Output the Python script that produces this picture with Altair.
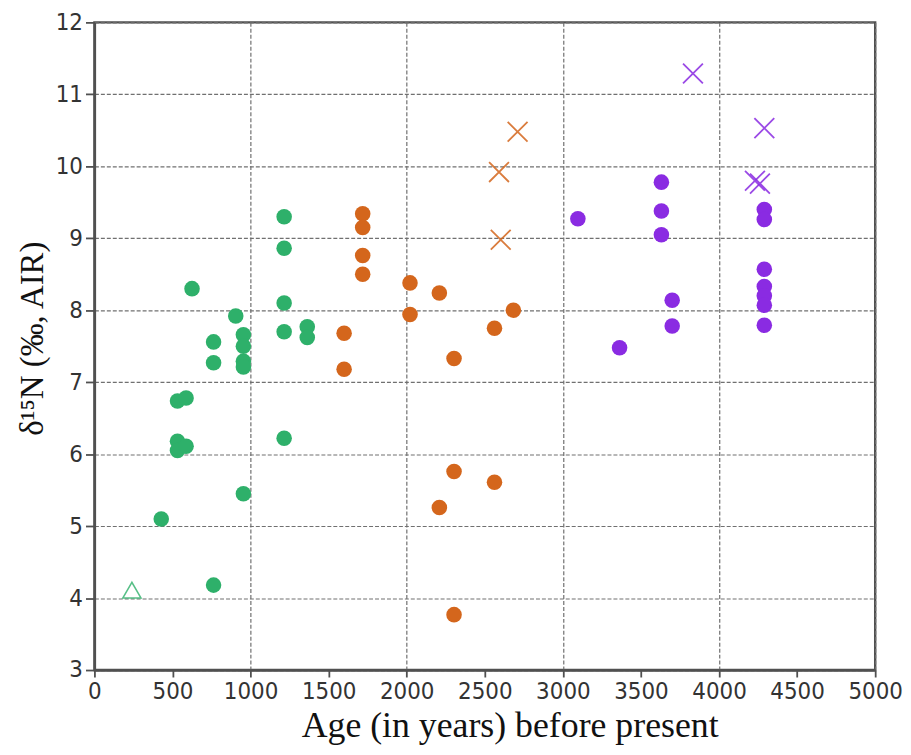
import altair as alt
import pandas as pd

# Green (youngest) group
green_x = [428, 763, 625, 905, 763, 763, 954, 954, 954, 954, 1215, 1215, 1215, 1215, 1215, 1363, 1363, 532, 587, 532, 532, 587, 954]
green_y = [5.10, 4.18, 8.30, 7.92, 7.56, 7.27, 7.66, 7.50, 7.29, 7.21, 9.30, 8.86, 8.10, 7.70, 6.22, 7.77, 7.62, 6.74, 6.78, 6.18, 6.05, 6.11, 5.45]
green_tri_x = [240]
green_tri_y = [4.11]

# Orange (middle) group
orange_x = [1718, 1718, 1718, 1718, 2021, 2021, 2209, 2683, 2562, 1599, 1599, 2303, 2303, 2562, 2209, 2303]
orange_y = [9.34, 9.15, 8.76, 8.50, 8.38, 7.94, 8.24, 8.00, 7.75, 7.68, 7.18, 7.33, 5.76, 5.61, 5.26, 3.77]
orange_cross_x = [2710, 2591, 2602]
orange_cross_y = [10.48, 9.92, 8.98]

# Purple (oldest) group
purple_x = [3096, 3631, 3631, 3631, 4290, 4290, 4290, 4290, 4290, 4290, 4290, 3700, 3700, 3363]
purple_y = [9.27, 9.78, 9.38, 9.05, 9.40, 9.26, 8.57, 8.33, 8.20, 8.07, 7.79, 8.14, 7.78, 7.48]
purple_cross_x = [3833, 4290, 4230, 4262]
purple_cross_y = [11.29, 10.53, 9.80, 9.76]

x_ticks = list(range(0, 5001, 500))
y_ticks = list(range(3, 13))

GREEN, ORANGE, PURPLE = "#2EB06A", "#D4661C", "#8A2BE2"

def frame(xs, ys, grp):
    return pd.DataFrame({"age": xs, "d15n": ys, "grp": grp})

circles = pd.concat([
    frame(green_x, green_y, "g"),
    frame(orange_x, orange_y, "o"),
    frame(purple_x, purple_y, "p"),
])
crosses = pd.concat([
    frame(orange_cross_x, orange_cross_y, "o"),
    frame(purple_cross_x, purple_cross_y, "p"),
])
tri = frame(green_tri_x, green_tri_y, "g")

color_scale = alt.Scale(domain=["g", "o", "p"], range=[GREEN, ORANGE, PURPLE])

x_enc = alt.X("age:Q",
              scale=alt.Scale(domain=[0, 5000], nice=False, zero=False),
              axis=alt.Axis(values=x_ticks, format="d", labelOverlap=False, labelFlush=False,
                            title="Age (in years) before present",
                            gridOpacity={"condition": {"test": "datum.value % 1000 === 0", "value": 1}, "value": 0},
                            titleX=418, titleY=67, titleBaseline="alphabetic",
                            titleAnchor="start", titleAlign="center"))
y_enc = alt.Y("d15n:Q",
              scale=alt.Scale(domain=[3, 12], nice=False, zero=False),
              axis=alt.Axis(values=y_ticks, format="d", labelOverlap=False, labelFlush=False,
                            title="δ¹⁵N (‰, AIR)",
                            titleX=-52, titleY=318, titleAngle=270,
                            titleAnchor="start",
                            titleBaseline="alphabetic", titleAlign="center"))

pts = alt.Chart(circles).mark_point(filled=True, shape="circle", size=245, opacity=1).encode(
    x=x_enc, y=y_enc,
    color=alt.Color("grp:N", scale=color_scale, legend=None),
)
xs = alt.Chart(crosses).mark_point(filled=False, shape="M-1,-1L1,1M-1,1L1,-1",
                                   size=400, strokeWidth=1.8, opacity=0.85).encode(
    x="age:Q", y="d15n:Q",
    color=alt.Color("grp:N", scale=color_scale, legend=None),
)
tr = alt.Chart(tri).mark_point(filled=False, shape="triangle-up", size=330,
                               strokeWidth=1.6, opacity=0.8).encode(
    x="age:Q", y="d15n:Q",
    color=alt.Color("grp:N", scale=color_scale, legend=None),
)

chart = alt.layer(pts, xs, tr).properties(
    width=786, height=652,
    autosize=alt.AutoSizeParams(type="none"),
    padding={"left": 87, "top": 12, "right": 28, "bottom": 75},
).configure_view(
    stroke="#505050", strokeWidth=2.4
).configure_axis(
    domainColor="#505050", domainWidth=2.4,
    tickColor="#505050", tickWidth=1.8,
    gridColor="#707070", gridDash=[4, 2], gridWidth=1.2,
    labelFont="DejaVu Sans Condensed", labelFontSize=24, labelColor="#333333",
    titleFont="Liberation Serif", titleFontWeight="normal", titleColor="#111111",
).configure_axisX(
    tickSize=7, labelPadding=3, titleFontSize=36,
).configure_axisY(
    tickSize=9, labelPadding=3, titleFontSize=33,
)

chart.save("out.html", embed_options={"renderer": "svg", "actions": False})
